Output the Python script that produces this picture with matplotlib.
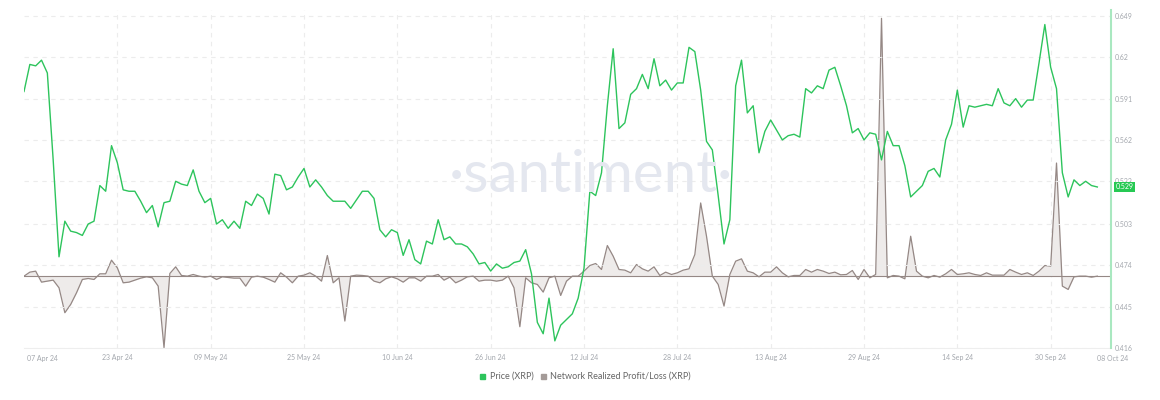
import matplotlib
matplotlib.use("Agg")
import matplotlib.pyplot as plt
import matplotlib.dates as mdates
import numpy as np
import pandas as pd

plt.rcParams['font.family'] = ['Lato', 'DejaVu Sans']

# daily values, 07 Apr 2024 .. 08 Oct 2024
dates = pd.date_range('2024-04-07', periods=185, freq='D')

price = [
    0.596, 0.615, 0.614, 0.618, 0.609, 0.548, 0.480, 0.505, 0.498, 0.497,
    0.495, 0.503, 0.505, 0.530, 0.526, 0.558, 0.546, 0.527, 0.526, 0.526,
    0.519, 0.511, 0.516, 0.501, 0.518, 0.519, 0.533, 0.531, 0.530, 0.541,
    0.526, 0.518, 0.521, 0.503, 0.506, 0.500, 0.505, 0.500, 0.519, 0.516,
    0.524, 0.521, 0.510, 0.538, 0.537, 0.527, 0.529, 0.536, 0.542, 0.529,
    0.534, 0.529, 0.523, 0.519, 0.519, 0.519, 0.514, 0.520, 0.526, 0.526,
    0.521, 0.499, 0.494, 0.499, 0.497, 0.481, 0.492, 0.478, 0.475, 0.491,
    0.489, 0.506, 0.492, 0.494, 0.489, 0.489, 0.487, 0.482, 0.475, 0.476,
    0.470, 0.475, 0.472, 0.473, 0.476, 0.477, 0.485, 0.468, 0.434, 0.426,
    0.451, 0.421, 0.432, 0.436, 0.440, 0.451, 0.472, 0.526, 0.523, 0.539,
    0.586, 0.626, 0.570, 0.574, 0.594, 0.598, 0.608, 0.598, 0.619, 0.600,
    0.604, 0.597, 0.602, 0.602, 0.627, 0.624, 0.597, 0.561, 0.555, 0.523,
    0.489, 0.506, 0.600, 0.618, 0.581, 0.586, 0.553, 0.568, 0.576, 0.569,
    0.562, 0.565, 0.566, 0.564, 0.598, 0.595, 0.600, 0.598, 0.611, 0.613,
    0.600, 0.586, 0.567, 0.570, 0.562, 0.567, 0.566, 0.548, 0.568, 0.558,
    0.558, 0.544, 0.522, 0.526, 0.530, 0.540, 0.542, 0.536, 0.562, 0.573,
    0.597, 0.571, 0.586, 0.585, 0.586, 0.587, 0.586, 0.598, 0.588, 0.586,
    0.591, 0.585, 0.590, 0.590, 0.616, 0.643, 0.613, 0.598, 0.539, 0.522,
    0.534, 0.530, 0.533, 0.530, 0.529,
]

# network realized profit/loss, arbitrary units (hidden axis)
pnl = [
    0.0, 1.2, 1.5, -1.8, -1.5, -1.2, -3.5, -11.0, -8.5, -5.0,
    -1.0, -0.7, -1.0, 0.7, 0.7, 4.8, 2.5, -2.0, -1.8, -1.2,
    -0.6, -0.2, -0.5, -3.0, -21.5, 0.8, 2.8, 0.2, 0.0, 0.5,
    0.0, -0.3, 0.0, -1.0, -0.2, -0.4, -0.6, -0.6, -3.0, -0.3,
    0.0, -0.3, -1.0, -1.8, 1.0, -0.3, -2.0, 0.0, 0.3, 1.0,
    0.0, -1.5, 6.2, -2.0, -0.5, -13.5, 0.0, 0.3, 0.2, 0.0,
    -1.5, -2.0, -0.8, -0.2, -0.8, -1.8, -0.5, -0.5, -1.5, 0.0,
    0.0, 0.5, -1.2, -0.3, -2.0, -1.2, -0.2, 0.0, -1.5, -1.2,
    -1.2, -1.5, -1.2, 0.0, -3.5, -15.2, -0.5, -2.0, -2.5, -4.8,
    -0.5, 0.0, -5.8, -1.5, 0.0, 0.0, 1.5, 3.2, 3.8, 2.0,
    9.2, 6.0, 2.0, 1.8, 1.0, 3.5, 2.2, 1.5, 2.8, 0.2,
    1.2, 0.5, 1.0, 1.8, 2.2, 6.5, 22.0, 12.0, 0.0, -2.5,
    -9.0, 0.5, 4.5, 5.2, 1.5, 1.0, -0.2, 1.2, 1.2, 2.8,
    1.0, -0.2, 0.2, 0.2, 2.0, 1.2, 2.0, 1.5, 0.8, 1.2,
    0.4, 0.5, 1.7, -1.0, 2.0, -0.5, 0.5, 77.5, -0.5, 0.2,
    0.0, -0.8, 12.0, 1.5, 0.0, -0.5, 0.2, -0.3, 0.7, 2.0,
    0.5, 0.7, 1.0, 0.5, 0.2, 1.0, 0.3, 0.3, 0.3, 2.0,
    1.2, 0.5, 1.0, 0.2, 1.5, 3.2, 3.0, 34.0, -3.0, -4.0,
    -0.2, 0.0, 0.0, -0.3, 0.0,
]

price_ticks = [0.416, 0.445, 0.474, 0.503, 0.533, 0.562, 0.591, 0.62, 0.649]
price_labels = ['0.416', '0.445', '0.474', '0.503', '0.533', '0.562', '0.591', '0.62', '0.649']
date_ticks = ['2024-04-23', '2024-05-09', '2024-05-25', '2024-06-10', '2024-06-26',
              '2024-07-12', '2024-07-28', '2024-08-13', '2024-08-29', '2024-09-14',
              '2024-09-30']
date_labels = ['23 Apr 24', '09 May 24', '25 May 24', '10 Jun 24', '26 Jun 24',
               '12 Jul 24', '28 Jul 24', '13 Aug 24', '29 Aug 24', '14 Sep 24',
               '30 Sep 24']

green = '#2dc45c'
pnl_col = '#958885'
fill_col = '#eeebea'
txt_col = '#a3a7ad'
grid_col = '#ececec'

fig = plt.figure(figsize=(11.6, 4), dpi=100)
ax = fig.add_axes([0.0207, 0.13, 0.9371, 0.845])

# profit/loss on hidden axis
ax.fill_between(dates, 0, pnl, color=fill_col, lw=0)
ax.plot(dates, pnl, color=pnl_col, lw=0.9)
ax.axhline(0, color=pnl_col, lw=0.8)
ax.set_ylim(-21.6, 80)
ax.set_yticks([])

x0 = dates[0]
x1 = dates[0] + pd.Timedelta(days=186.35)
ax.set_xlim(x0, x1)
ax.set_xticks(pd.to_datetime(date_ticks))
ax.set_xticklabels(date_labels)
ax.tick_params(axis='x', length=0, labelsize=5, colors=txt_col, pad=4)
ax.grid(axis='x', color=grid_col, lw=0.8, ls=(0, (4, 4)))
for s in ['top', 'left', 'right']:
    ax.spines[s].set_visible(False)
ax.spines['bottom'].set_color('#eeeeee')

# end labels on x axis
ax.text(x0 + pd.Timedelta(days=0.5), -0.02, '07 Apr 24', transform=ax.get_xaxis_transform(),
        ha='left', va='top', fontsize=5, color=txt_col)
ax.text(pd.Timestamp('2024-10-08'), -0.02, '08 Oct 24', transform=ax.get_xaxis_transform(),
        ha='left', va='top', fontsize=5, color=txt_col)

# watermark
fig.text(0.509, 0.56, '\u00b7santiment\u00b7', ha='center', va='center', fontsize=42,
         color='#e4e7ef', zorder=0)

# price on right axis
ax2 = ax.twinx()
ax2.plot(dates, price, color=green, lw=1.0)
ax2.set_ylim(0.416, 0.6532)
ax2.set_yticks(price_ticks)
ax2.set_yticklabels(price_labels)
ax2.tick_params(axis='y', length=0, labelsize=5, colors=txt_col, pad=3)
ax2.grid(axis='y', color=grid_col, lw=0.8, ls=(0, (4, 4)))
ax.set_zorder(ax2.get_zorder())
for s in ['top', 'left', 'bottom']:
    ax2.spines[s].set_visible(False)
ax2.spines['right'].set_color('#a9e8c0')
ax2.spines['right'].set_linewidth(1.5)
ax2.set_xlim(x0, x1)

# last price tag
ax2.text(1.004, price[-1], '%.3f' % price[-1], transform=ax2.get_yaxis_transform(),
         ha='left', va='center', fontsize=5, color='white',
         bbox=dict(boxstyle='square,pad=0.25', fc='#26c953', ec='none'))

# legend
fig.patches.append(plt.Rectangle((0.4135, 0.052), 0.005, 0.014, color=green,
                                 transform=fig.transFigure, figure=fig))
fig.text(0.422, 0.059, 'Price (XRP)', fontsize=6.5, color='#666666', va='center')
fig.patches.append(plt.Rectangle((0.466, 0.052), 0.005, 0.014, color='#a49b98',
                                 transform=fig.transFigure, figure=fig))
fig.text(0.4745, 0.059, 'Network Realized Profit/Loss (XRP)', fontsize=6.5,
         color='#666666', va='center')

fig.savefig('out.png', dpi=100)
